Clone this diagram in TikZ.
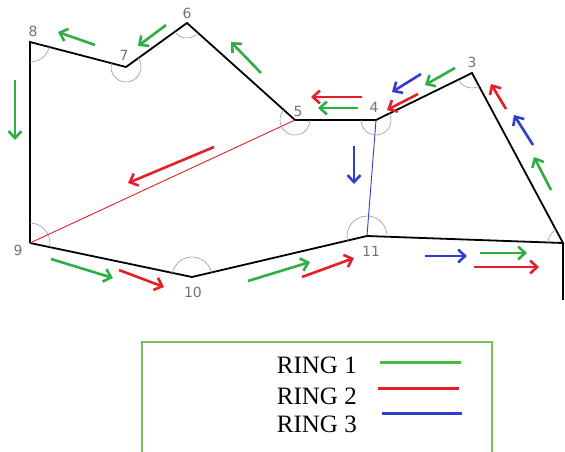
\documentclass[tikz,border=0pt]{standalone}
\usepackage{fontspec}
\setmainfont{Liberation Serif}
\newfontfamily\lblfont{DejaVu Sans}
\usetikzlibrary{arrows.meta,angles}
\definecolor{rgreen}{RGB}{45,175,70}
\definecolor{rred}{RGB}{230,30,40}
\definecolor{rblue}{RGB}{50,60,205}
\definecolor{lgreen}{RGB}{125,190,90}
\tikzset{
  edge/.style={line width=1.8pt,black},
  arr/.style={line width=2.6pt,-{Straight Barb[length=7pt,width=13pt,line width=2.6pt]}},
  ga/.style={arr,rgreen},
  ra/.style={arr,rred},
  ba/.style={arr,rblue},
  ang/.style={draw=gray!80,line width=0.6pt,angle radius=15pt},
  bigang/.style={ang,angle radius=20pt},
  vlabel/.style={font=\lblfont\fontsize{14}{14}\selectfont,text=gray!90!black,inner sep=0pt},
  legtext/.style={font=\fontsize{25}{25}\selectfont,anchor=base east,inner sep=0pt},
  legline/.style={line width=3pt}
}
\begin{document}
\begin{tikzpicture}[x=1pt,y=-1pt]
\clip (0,0) rectangle (565,452);
\fill[white] (0,0) rectangle (565,452);
% vertices
\coordinate (v8) at (30,42);
\coordinate (v7) at (126,67);
\coordinate (v6) at (187,23);
\coordinate (v5) at (295,120);
\coordinate (v4) at (376,120);
\coordinate (v3) at (472,73);
\coordinate (v2) at (563,243);
\coordinate (v1) at (563,300);
\coordinate (v11) at (367,236);
\coordinate (v10) at (192,277);
\coordinate (v9) at (30,243);
% edges
\draw[edge] (v9) -- (v8) -- (v7) -- (v6) -- (v5) -- (v4) -- (v3) -- (v2) -- (v11) -- (v10) -- (v9);
\draw[edge] (v2) -- (v1);
\draw[rred,line width=0.9pt] (v5) -- (v9);
\draw[rblue,line width=0.9pt] (v4) -- (v11);
% angle arcs
\pic[bigang] {angle = v9--v8--v7};
\pic[ang] {angle = v8--v7--v6};
\pic[ang] {angle = v7--v6--v5};
\pic[ang] {angle = v6--v5--v4};
\pic[ang] {angle = v5--v4--v3};
\pic[ang] {angle = v4--v3--v2};
\pic[ang] {angle = v3--v2--v11};
\pic[bigang] {angle = v2--v11--v10};
\pic[bigang] {angle = v11--v10--v9};
\pic[bigang] {angle = v10--v9--v8};
% vertex labels
\node[vlabel] (l8) at (33,31) {8};
\node[vlabel] (l7) at (124,55) {7};
\node[vlabel] (l6) at (187,13) {6};
\node[vlabel] (l5) at (298,111) {5};
\node[vlabel] (l4) at (374,107) {4};
\node[vlabel] (l3) at (472,62) {3};
\node[vlabel] (l11) at (371,251) {11};
\node[vlabel] (l10) at (193,292) {10};
\node[vlabel] (l9) at (18,250) {9};
% ring arrows
\draw[ga] (95,45) -- (58,32);
\draw[ga] (166,25) -- (138,46);
\draw[ga] (261,73) -- (231,42);
\draw[ga] (15,80) -- (15,140);
\draw[ga] (358,108) -- (318,108);
\draw[ra] (362,97) -- (311,97);
\draw[ga] (455,68) -- (425,85);
\draw[ba] (421,74) -- (392,92);
\draw[ra] (418,94) -- (387,110);
\draw[ra] (506,109) -- (491,84);
\draw[ba] (533,145) -- (514,115);
\draw[ga] (551,190) -- (534,157);
\draw[ba] (354,146) -- (354,184);
\draw[ra] (214,147) -- (128,183);
\draw[ga] (51,259) -- (113,278);
\draw[ra] (119,270) -- (164,287);
\draw[ga] (248,281) -- (310,262);
\draw[ra] (302,277) -- (354,258);
\draw[ba] (425,256) -- (467,256);
\draw[ga] (480,253) -- (527,253);
\draw[ra] (474,267) -- (539,267);
% legend
\draw[lgreen,line width=1.2pt] (142,342) rectangle (492,470);
\node[legtext] (t1) at (357,373) {RING 1};
\node[legtext] (t2) at (357,404) {RING 2};
\node[legtext] (t3) at (357,432) {RING 3};
\coordinate (g1) at (380,362); \coordinate (g2) at (461,362);
\coordinate (r1) at (378,388); \coordinate (r2) at (459,388);
\coordinate (b1) at (382,413); \coordinate (b2) at (462,413);
\draw[legline,rgreen!85!lime] (g1) -- (g2);
\draw[legline,rred] (r1) -- (r2);
\draw[legline,rblue] (b1) -- (b2);
\end{tikzpicture}
\end{document}
